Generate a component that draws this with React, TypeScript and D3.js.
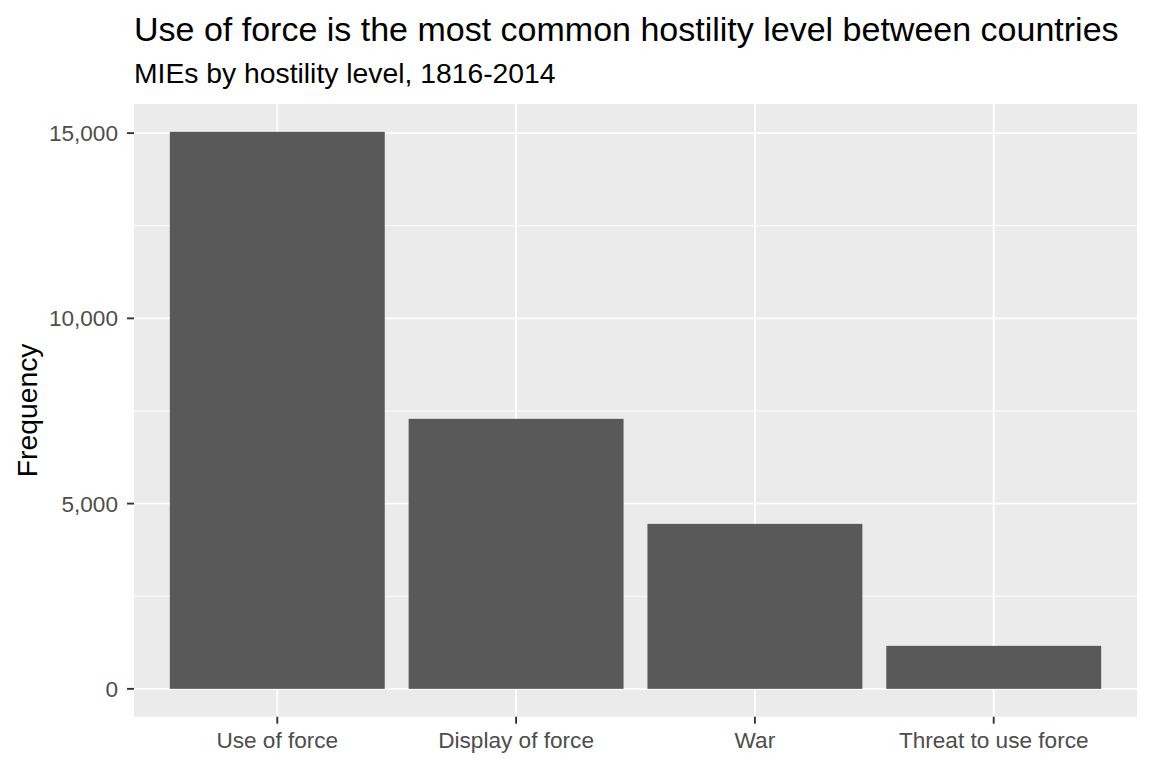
import React, { useEffect, useRef } from 'react';
import * as d3 from 'd3';

const categories = ['Use of force', 'Display of force', 'War', 'Threat to use force'];
const frequencies = [15034, 7288, 4453, 1160];
const yTicks = [0, 5000, 10000, 15000];
const yMinorTicks = [2500, 7500, 12500];

const width = 1152;
const height = 768;

const App: React.FC = () => {
  const svgRef = useRef<SVGSVGElement>(null);

  useEffect(() => {
    document.body.style.margin = '0';
    if (!svgRef.current) return;

    const svg = d3.select(svgRef.current);
    svg.selectAll('*').remove();

    const panel = { left: 134, right: 1137, top: 104, bottom: 716.7 };
    const font = '"Liberation Sans", Arial, sans-serif';

    const maxVal = d3.max(frequencies) || 0;
    // ggplot default: 5% expansion on continuous axis
    const y = d3.scaleLinear()
      .domain([-0.05 * maxVal, maxVal * 1.05])
      .range([panel.bottom, panel.top]);

    const x = d3.scaleBand<string>()
      .domain(categories)
      .range([panel.left, panel.right])
      .paddingInner(0.1)
      .paddingOuter(0.15);

    svg.append('rect')
      .attr('x', panel.left)
      .attr('y', panel.top)
      .attr('width', panel.right - panel.left)
      .attr('height', panel.bottom - panel.top)
      .attr('fill', '#EBEBEB');

    // minor grid
    svg.selectAll('line.minor')
      .data(yMinorTicks)
      .enter()
      .append('line')
      .attr('x1', panel.left)
      .attr('x2', panel.right)
      .attr('y1', d => y(d))
      .attr('y2', d => y(d))
      .attr('stroke', '#fff')
      .attr('stroke-width', 1);

    // major grid
    svg.selectAll('line.major-y')
      .data(yTicks)
      .enter()
      .append('line')
      .attr('x1', panel.left)
      .attr('x2', panel.right)
      .attr('y1', d => y(d))
      .attr('y2', d => y(d))
      .attr('stroke', '#fff')
      .attr('stroke-width', 1.9);

    svg.selectAll('line.major-x')
      .data(categories)
      .enter()
      .append('line')
      .attr('x1', d => (x(d) || 0) + x.bandwidth() / 2)
      .attr('x2', d => (x(d) || 0) + x.bandwidth() / 2)
      .attr('y1', panel.top)
      .attr('y2', panel.bottom)
      .attr('stroke', '#fff')
      .attr('stroke-width', 1.9);

    // bars
    svg.selectAll('rect.bar')
      .data(frequencies)
      .enter()
      .append('rect')
      .attr('x', (_d, i) => x(categories[i]) || 0)
      .attr('y', d => y(d))
      .attr('width', x.bandwidth())
      .attr('height', d => y(0) - y(d))
      .attr('fill', '#595959');

    // y axis ticks + labels
    svg.selectAll('line.ytick')
      .data(yTicks)
      .enter()
      .append('line')
      .attr('x1', panel.left - 7)
      .attr('x2', panel.left)
      .attr('y1', d => y(d))
      .attr('y2', d => y(d))
      .attr('stroke', '#333333')
      .attr('stroke-width', 1.9);

    svg.selectAll('text.ylab')
      .data(yTicks)
      .enter()
      .append('text')
      .attr('x', panel.left - 16)
      .attr('y', d => y(d))
      .attr('dy', '0.36em')
      .attr('text-anchor', 'end')
      .style('font-family', font)
      .style('font-size', '22.6px')
      .style('fill', '#4D4D4D')
      .text(d => d3.format(',')(d));

    // x axis ticks + labels
    svg.selectAll('line.xtick')
      .data(categories)
      .enter()
      .append('line')
      .attr('x1', d => (x(d) || 0) + x.bandwidth() / 2)
      .attr('x2', d => (x(d) || 0) + x.bandwidth() / 2)
      .attr('y1', panel.bottom)
      .attr('y2', panel.bottom + 7)
      .attr('stroke', '#333333')
      .attr('stroke-width', 1.9);

    svg.selectAll('text.xlab')
      .data(categories)
      .enter()
      .append('text')
      .attr('x', d => (x(d) || 0) + x.bandwidth() / 2)
      .attr('y', 748)
      .attr('text-anchor', 'middle')
      .style('font-family', font)
      .style('font-size', '22.6px')
      .style('fill', '#4D4D4D')
      .text(d => d);

    // axis title
    svg.append('text')
      .attr('transform', `translate(36.5, ${(panel.top + panel.bottom) / 2}) rotate(-90)`)
      .attr('text-anchor', 'middle')
      .style('font-family', font)
      .style('font-size', '28.3px')
      .style('fill', '#000')
      .text('Frequency');

    // title + subtitle
    svg.append('text')
      .attr('x', panel.left)
      .attr('y', 40.7)
      .style('font-family', font)
      .style('font-size', '34px')
      .style('fill', '#000')
      .text('Use of force is the most common hostility level between countries');

    svg.append('text')
      .attr('x', panel.left)
      .attr('y', 83.3)
      .style('font-family', font)
      .style('font-size', '28.3px')
      .style('fill', '#000')
      .text('MIEs by hostility level, 1816-2014');
  }, []);

  return (
    <svg ref={svgRef} width={width} height={height} style={{ display: 'block', background: '#fff' }}></svg>
  );
};

export default App;
